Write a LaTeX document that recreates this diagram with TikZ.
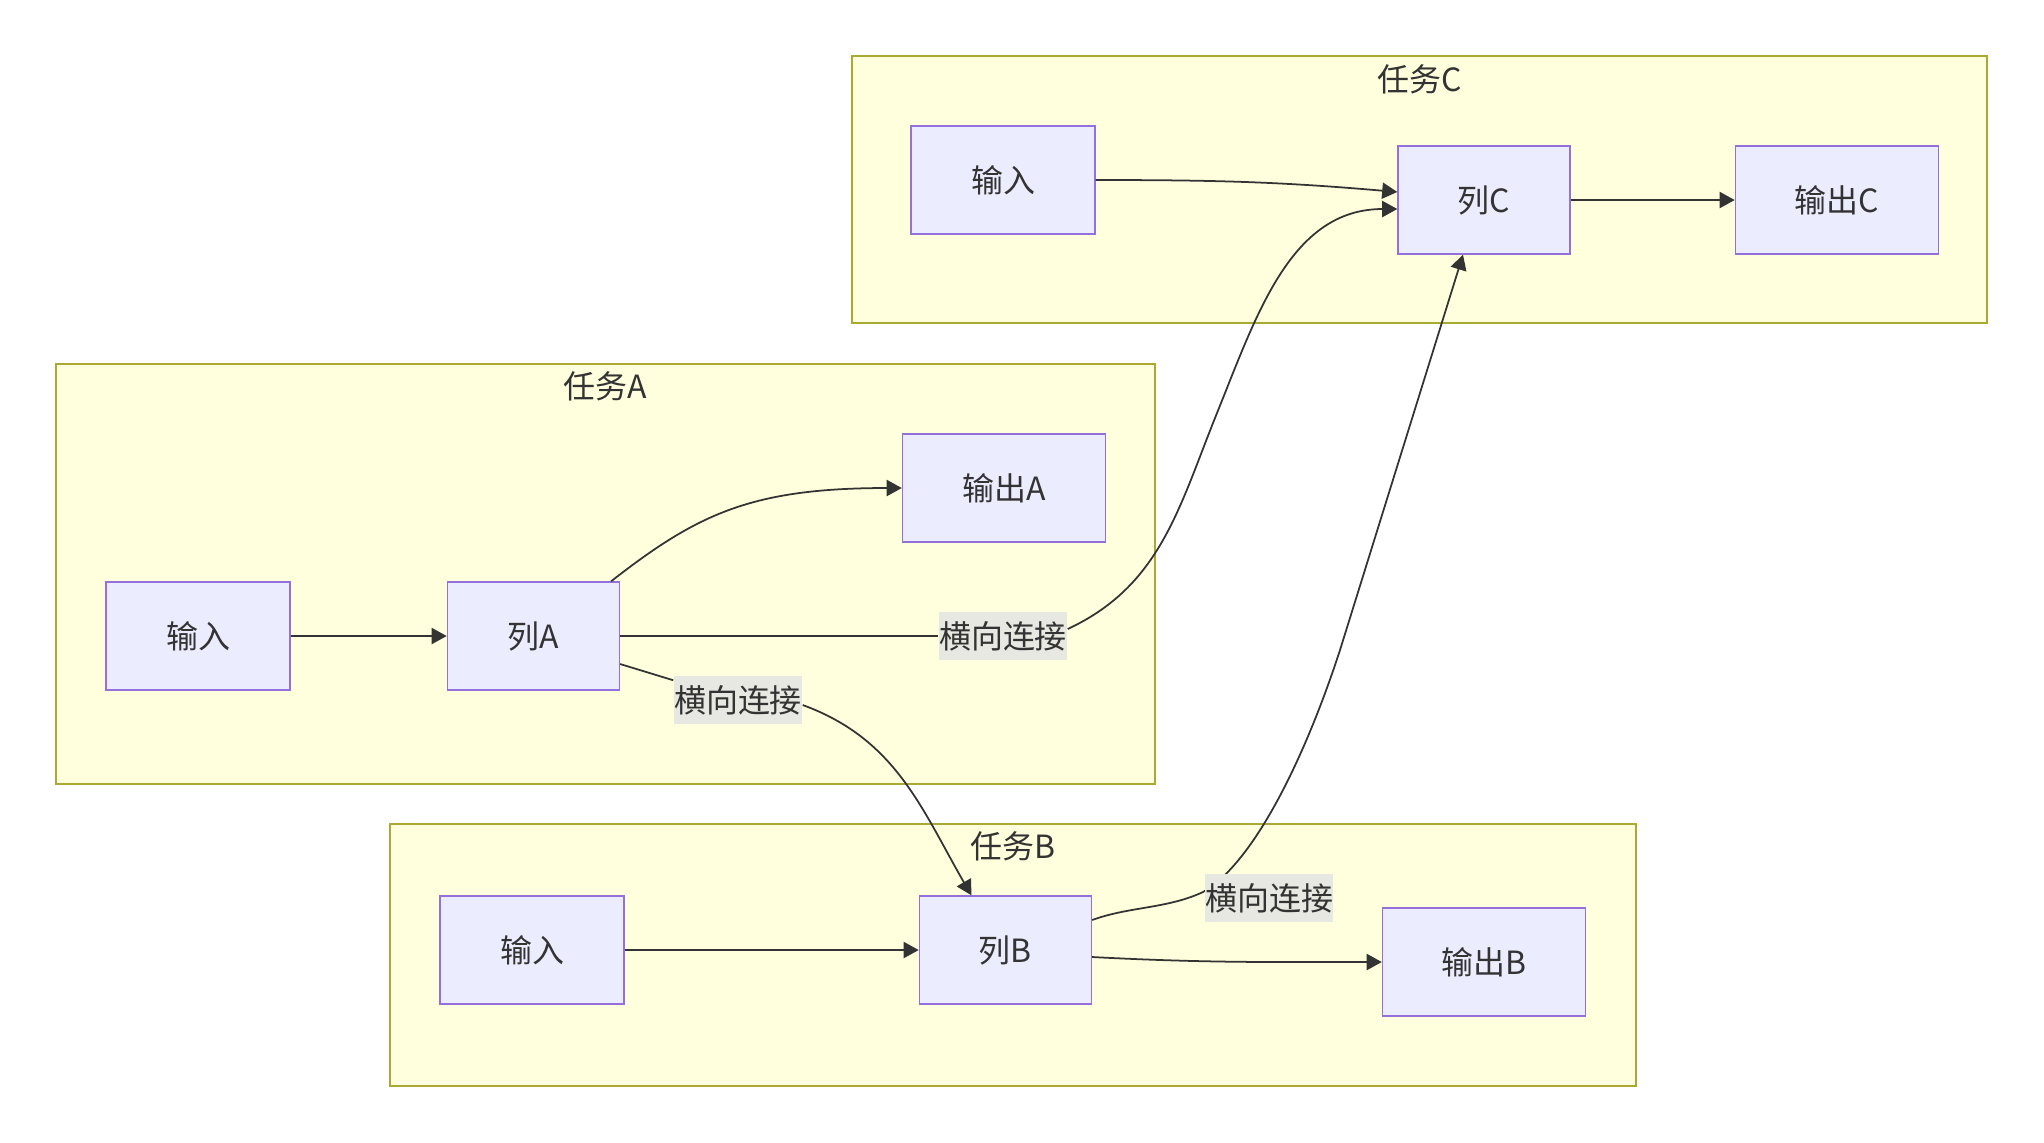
\documentclass[tikz,border=0pt]{standalone}
\usepackage{fontspec}
\setmainfont{Noto Sans CJK SC}
\usepackage{tikz}
\usetikzlibrary{positioning,arrows.meta}
\definecolor{clusterfill}{HTML}{FFFFDE}
\definecolor{clusterline}{HTML}{AAAA33}
\definecolor{nodefill}{HTML}{ECECFF}
\definecolor{nodeline}{HTML}{9370DB}
\definecolor{ink}{HTML}{333333}
\definecolor{lblfill}{RGB}{232,232,226}

\begin{document}
\begin{tikzpicture}[
  font=\fontsize{9.1pt}{11pt}\selectfont, text=ink,
  task/.style={draw=clusterline,fill=clusterfill,line width=0.45pt,inner sep=0pt},
  box/.style={draw=nodeline,fill=nodefill,line width=0.4pt,minimum height=1.08cm,inner sep=0pt},
  inbox/.style={box,minimum width=1.84cm},
  colbox/.style={box,minimum width=1.72cm},
  outbox/.style={box,minimum width=2.03cm},
  ttl/.style={inner sep=0pt},
  lbl/.style={fill=lblfill,inner sep=0pt,minimum height=0.48cm,minimum width=1.28cm},
  ar/.style={-{Triangle[length=4.3pt,width=4.6pt]},draw=ink,line width=0.5pt},
  ln/.style={draw=ink,line width=0.5pt}
]
\useasboundingbox (0,0) rectangle (20.44,-11.42);

\node[task,minimum width=11.35cm,minimum height=2.67cm] (taskC) at (14.195,-1.895) {};
\node[task,minimum width=10.99cm,minimum height=4.20cm] (taskA) at (6.055,-5.74) {};
\node[task,minimum width=12.46cm,minimum height=2.62cm] (taskB) at (10.13,-9.55) {};
\node[ttl] (ttlC) at ([yshift=-0.24cm]taskC.north) {任务C};
\node[ttl] (ttlA) at ([yshift=-0.23cm]taskA.north) {任务A};
\node[ttl] (ttlB) at ([yshift=-0.23cm]taskB.north) {任务B};

\node[inbox] (inC) at (10.03,-1.80) {输入};
\node[colbox] (colC) at (14.84,-2.00) {列C};
\node[outbox,right=1.64cm of colC] (outC) {输出C};

\node[inbox] (inA) at (1.98,-6.36) {输入};
\node[colbox,right=1.56cm of inA] (colA) {列A};
\node[outbox] (outA) at (10.04,-4.88) {输出A};

\node[inbox] (inB) at (5.32,-9.50) {输入};
\node[colbox,right=2.94cm of inB] (colB) {列B};
\node[outbox] (outB) at (14.84,-9.62) {输出B};

\node[lbl] (lbAC) at (10.03,-6.36) {横向连接};
\node[lbl] (lbAB) at (7.38,-7.00) {横向连接};
\coordinate (ac1) at (12.17,-4.13);
\coordinate (bc1) at (12.03,-8.92);
\coordinate (bc2) at (13.40,-6.50);

\draw[ar] (inC.east) to[out=0,in=175] ([yshift=0.08cm]colC.west);
\draw[ar] (colC) -- (outC);
\draw[ar] (inA) -- (colA);
\draw[ar] ([xshift=-0.09cm]colA.north east) .. controls +(38:1.1) and +(-1.5,0) .. (outA.west);
\draw[ln] (colA) -- (lbAC);
\draw[ar] ([yshift=0.07cm]lbAC.east) to[out=25,in=248] (ac1) to[out=68,in=180] ([yshift=-0.09cm]colC.west);
\draw[ln] ([yshift=-0.28cm]colA.east) -- (lbAB);
\draw[ar] ([yshift=-0.05cm]lbAB.east) to[out=-20,in=120] ([xshift=-0.34cm]colB.north);
\draw[ar] (inB) -- (colB);
\draw[ar] ([yshift=-0.07cm]colB.east) to[out=-3,in=180] (outB.west);
\draw[ar] ([yshift=0.30cm]colB.east) .. controls +(20:0.4) and +(205:0.4) .. (bc1)
  .. controls +(30:0.6) and +(252:1.1) .. (bc2) -- ([xshift=-0.21cm]colC.south);

\node[lbl] (lbBC) at (12.69,-8.98) {横向连接};
\end{tikzpicture}
\end{document}
